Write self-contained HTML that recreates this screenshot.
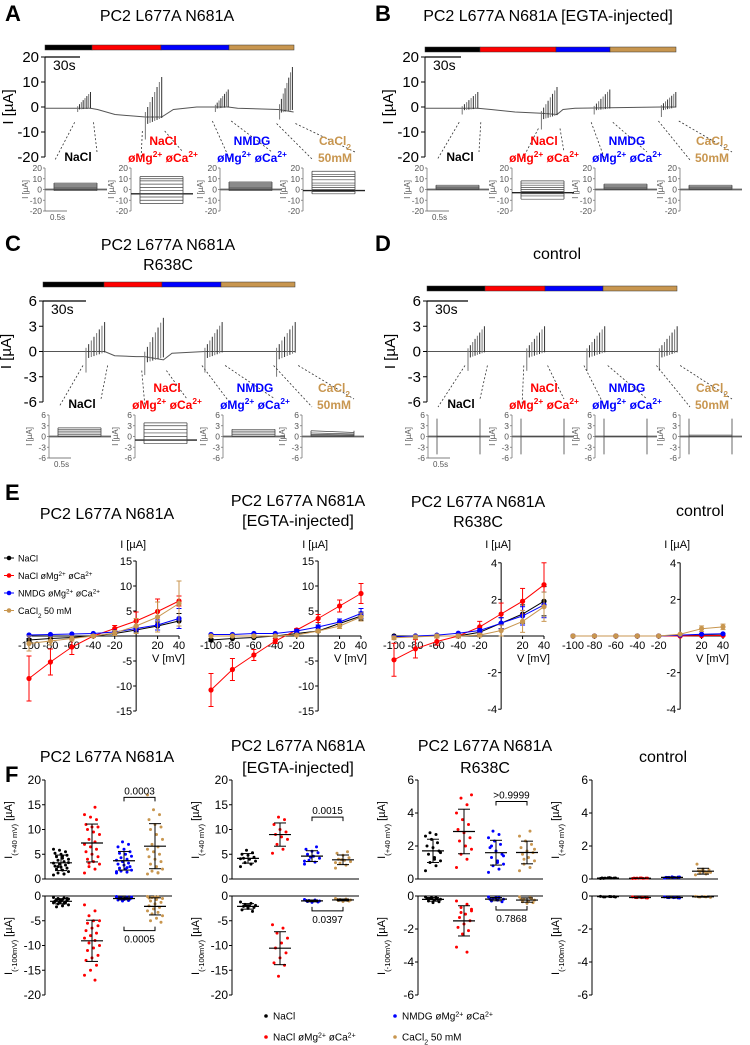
<!DOCTYPE html>
<html><head><meta charset="utf-8"><style>
html,body{margin:0;padding:0;background:#fff}
svg{display:block;font-family:"Liberation Sans",Arial,sans-serif}
</style></head><body>
<svg id="fig" width="750" height="1045" viewBox="0 0 750 1045" xmlns="http://www.w3.org/2000/svg"></svg>
<script>
// ---------- DATA ----------
const COLORS=['#000000','#ff0000','#0000ff','#c8964f'];
const ivVoltages=[-100,-80,-60,-40,-20,0,20,40];
const ivXTicks=[-100,-80,-60,-40,-20,20,40];
// E panel 1
const e1Black=[-0.8,-0.5,-0.3,0,0.5,1.2,2,3];
const e1Red=[-8.5,-5.2,-2.2,0,1.5,3,4.9,7];
const e1Blue=[0.2,0.3,0.4,0.5,0.8,1.5,2.2,3.5];
const e1Tan=[-1.5,-1,-0.5,0,0.6,2,3.8,6.5];
const e1BlackErr=[0.3,0.2,0.2,0.1,0.2,0.4,0.8,1.5];
const e1RedErr=[4.5,2.6,1.5,0.3,0.6,1.8,2.5,1];
const e1BlueErr=[0.2,0.2,0.2,0.2,0.3,0.5,1,2];
const e1TanErr=[1.5,0.8,0.5,0.3,0.5,1.5,3,4.5];
// E panel 2
const e2Black=[-0.8,-0.5,-0.3,0,0.5,1,2.5,4];
const e2Red=[-10.8,-6.7,-3.8,-1,1.2,3.5,6,8.5];
const e2Blue=[0.3,0.3,0.5,0.5,1,1.8,2.8,4.5];
const e2Tan=[0,0,0,0,0.2,1,2,3.8];
const e2BlackErr=[0.3,0.2,0.2,0.1,0.2,0.3,0.5,0.8];
const e2RedErr=[3.3,2.2,1.1,0.5,0.3,0.8,1.2,2];
const e2BlueErr=[0.2,0.2,0.2,0.2,0.3,0.4,0.6,1];
const e2TanErr=[0.2,0.2,0.2,0.2,0.2,0.3,0.5,0.8];
// E panel 3
const e3Black=[0,0,0,0,0.2,0.7,1.2,1.9];
const e3Red=[-1.3,-0.7,-0.3,0,0.5,1.2,1.9,2.8];
const e3Blue=[-0.05,0,0.05,0.15,0.3,0.7,1.1,1.7];
const e3Tan=[-0.1,-0.05,0,0,0.05,0.3,0.8,1.6];
const e3BlackErr=[0.05,0.05,0.05,0.05,0.1,0.3,0.5,0.8];
const e3RedErr=[0.9,0.5,0.2,0.1,0.3,0.6,0.7,1.2];
const e3BlueErr=[0.05,0.05,0.05,0.05,0.1,0.3,0.5,0.7];
const e3TanErr=[0.1,0.1,0.1,0.1,0.1,0.3,0.6,0.8];
// E panel 4
const e4Black=[0,0,0,0,0,0.02,0.05,0.05];
const e4Red=[0,0,0,0,0,0,0.02,0.03];
const e4Blue=[0,0,0,0,0,0.05,0.1,0.12];
const e4Tan=[0,0,0,0,0,0.1,0.4,0.5];
const e4BlackErr=[0,0,0,0,0,0.02,0.03,0.03];
const e4RedErr=[0,0,0,0,0,0,0.02,0.02];
const e4BlueErr=[0,0,0,0,0,0.03,0.05,0.05];
const e4TanErr=[0,0,0,0,0,0.05,0.15,0.15];
// F scatter values
const f1UpBlack=[0.8,1,1.2,1.5,1.8,2,2.2,2.4,2.6,2.8,3,3.2,3.5,3.8,4,4.2,4.5,4.8,5,5.2,5.5,5.8,6,1,2.5,3.3,4.6];
const f1UpRed=[1.2,2,2.5,3,3.5,4,4.5,5,5.5,6,6.5,7,7.5,8,9,9.5,10,10.5,10.5,11,12,12.5,13,14.5,3.2];
const f1UpBlue=[1.2,1.4,1.6,1.8,2,2.2,2.5,2.8,3,3.2,3.5,3.8,4,4.3,4.6,5,5.2,5.5,6,6.5,7,7.5,1.5,2.3];
const f1UpTan=[1,1.3,1.6,2,2.5,3,3.5,4,4.5,5,5.5,6,6.5,7,8,9,10,10.5,11,12,13,14,17,1.2];
const f1LoBlack=[-0.3,-0.4,-0.5,-0.6,-0.7,-0.8,-0.9,-1,-1.1,-1.2,-1.3,-1.4,-1.5,-1.6,-1.8,-2,-2.2,-0.5,-0.8,-1,-1.2,-0.7];
const f1LoRed=[-1.8,-3,-4,-5,-5,-5.5,-6,-6.5,-7,-7.5,-8,-8.5,-9,-9.5,-10,-10.5,-11,-12,-12.5,-13,-14,-15,-16,-17];
const f1LoBlue=[-0.1,-0.2,-0.3,-0.4,-0.5,-0.5,-0.6,-0.7,-0.8,-0.9,-1,-0.3,-0.4,-0.6,-0.2];
const f1LoTan=[-0.1,-0.2,-0.3,-0.5,-0.7,-1,-1.3,-1.6,-2,-2.3,-2.6,-3,-3.3,-3.6,-4,-4.5,-5,-5.3,-0.2,-0.4];
const f2UpBlack=[2.5,3,3.3,3.6,4,4.2,4.4,4.8,5,5.3,5.8,4.1];
const f2UpRed=[5.2,6,7,8,8.5,9,9.5,10,11,12,12.5];
const f2UpBlue=[3,3.4,3.8,4.2,4.6,5,5.3,5.6,6,6.5,4.4,3.6];
const f2UpTan=[2.2,2.8,3.2,3.5,3.8,4,4.3,4.8,5.2,5.5,3.9,3.3];
const f2LoBlack=[-1.2,-1.5,-1.7,-1.9,-2,-2.1,-2.3,-2.5,-2.8,-3.1,-2];
const f2LoRed=[-5.8,-6.5,-7.5,-8.5,-9.5,-10.5,-11.5,-12.5,-13.5,-14,-16.2];
const f2LoBlue=[-0.7,-0.8,-0.9,-1,-1,-1.1,-1.2,-1.3,-0.9,-1];
const f2LoTan=[-0.5,-0.6,-0.7,-0.8,-0.8,-0.9,-1,-1.1,-0.7,-0.9];
const f3UpBlack=[0.5,0.8,1,1.1,1.3,1.5,1.7,1.9,2,2.2,2.4,2.6,2.7,2.8,1.6,1.2];
const f3UpRed=[0.7,1.2,1.5,1.8,2,2.3,2.5,2.8,3,3.3,3.6,4,4.5,4.9,5.1];
const f3UpBlue=[0.4,0.6,0.8,0.9,1.1,1.3,1.5,1.7,1.9,2.1,2.3,2.5,2.7,2.9,1.4,1,2];
const f3UpTan=[0.5,0.7,0.9,1.1,1.3,1.5,1.6,1.7,1.9,2.1,2.3,2.6,2.9,1.2,1.8];
const f3LoBlack=[-0.05,-0.1,-0.15,-0.2,-0.25,-0.3,-0.35,-0.4,-0.15,-0.2,-0.1];
const f3LoRed=[-0.3,-0.5,-0.7,-0.9,-1.1,-1.3,-1.5,-1.7,-1.9,-2.1,-2.3,-3.1,-3.4,-1,-0.8];
const f3LoBlue=[-0.05,-0.1,-0.15,-0.2,-0.25,-0.3,-0.35,-0.1,-0.2];
const f3LoTan=[-0.05,-0.1,-0.2,-0.25,-0.3,-0.35,-0.4,-0.45,-0.2,-0.15];
const f4UpBlack=[0.03,0.05,0.05,0.06,0.08,0.04,0.05,0.07,0.06];
const f4UpRed=[0.03,0.04,0.05,0.05,0.06,0.04,0.05,0.06,0.05];
const f4UpBlue=[0.05,0.08,0.1,0.12,0.1,0.09,0.11,0.13,0.1];
const f4UpTan=[0.25,0.3,0.35,0.4,0.45,0.5,0.55,0.6,0.9,0.4,0.5];
const f4LoBlack=[-0.02,-0.04,-0.05,-0.06,-0.03,-0.05,-0.04];
const f4LoRed=[-0.05,-0.08,-0.1,-0.12,-0.1,-0.09,-0.11];
const f4LoBlue=[-0.05,-0.08,-0.1,-0.12,-0.1,-0.09,-0.11];
const f4LoTan=[-0.02,-0.05,-0.06,-0.08,-0.04,-0.05];
// trace panels: baselines [t(s), I(uA)], spike groups [t0,t1,maxPos,minNeg,base], inset levels
const aBaseline=[[0,-0.5],[28,-0.5],[39,-0.5],[45,-1],[60,-3],[86,-4],[100,-4],[110,-1],[130,0],[146,0],[157,0],[165,-0.5],[200,-1],[213,-2]];
const aGroups=[[28,39,6,-2,-0.5],[86,100,12,-13,-4],[146,157,7,-2,0],[201,212,16,-5,-1]];
const aInsetLevels=[[-1,0,1,2,3,4,5,6],[-13,-10,-7,-4,-1,2,5,8,10,12],[-1,0,1,2,3,4,5,6,7],[-4,-2,0,2,4,6,9,12,14,17]];
const aHold=[0,-4,0,-1];
const bBaseline=[[0,-0.5],[44,-0.5],[55,-1],[75,-2],[97,-2.5],[110,-3],[115,-1],[125,-0.5],[197,0],[209,0]];
const bGroups=[[31,44,6,-3,-0.5],[97,110,8,-9,-3],[141,154,7,-3,-0.5],[197,209,6,-4,0]];
const bInsetLevels=[[0,1,2,3,4],[-9,-6,-4,-2,0,2,4,6,8],[0,1,2,3,4,5],[0,1,2,3,4]];
const bHold=[0,-3,0,0];
const cBaseline=[[0,0],[43,0],[50,-0.5],[65,-0.6],[71,-0.6],[84,-1],[90,-0.2],[113,0],[176,0]];
const cGroups=[[30,43,3.5,-2.5,0],[71,84,4,-2.8,-0.6],[113,125,3.5,-2.5,0],[163,176,3.5,-3,0]];
const cInsetLevels=[[0,0.5,1,1.5,2,2.4],[-2,-1,0,1,2,3,3.8],[0,0.5,1,1.5,2],[0,0.3,0.6,1,1.6]];
const cHold=[0,-1,0,0];
const dBaseline=[[0,0],[183,0]];
const dGroups=[[30,42,3,-2.3,0],[73,86,3,-2.3,0],[117,130,3,-2.3,0],[170,183,3,-2.3,0]];
const dInsetLevels=[[0],[0],[0],[0,0.4]];
const dHold=[0,0,0,0];

// ---------- HELPERS ----------
const NS='http://www.w3.org/2000/svg';
const svg=document.getElementById('fig');
function el(tag,attrs,name,parent){
  const e=document.createElementNS(NS,tag);
  for(const k in attrs) e.setAttribute(k,attrs[k]);
  
  
  (parent||svg).appendChild(e);return e;
}
function txt(x,y,s,size,name,opts){
  opts=opts||{};
  const t=el('text',{x:x,y:y,'font-size':size,'text-anchor':opts.anchor||'middle',fill:opts.fill||'#000','font-weight':opts.bold?'bold':'normal'},name,opts.parent);
  if(opts.rot) t.setAttribute('transform','rotate(-90 '+x+' '+y+')');
  if(opts.html) t.innerHTML=s; else t.textContent=s;
  return t;
}
function line(x1,y1,x2,y2,stroke,w,name,extra,parent){
  const a={x1:x1,y1:y1,x2:x2,y2:y2,stroke:stroke,'stroke-width':w};
  if(extra) for(const k in extra) a[k]=extra[k];
  return el('line',a,name,parent);
}
const SUP=(s)=>'<tspan baseline-shift="super" font-size="70%">'+s+'</tspan>';
const SUB=(s)=>'<tspan baseline-shift="sub" font-size="70%">'+s+'</tspan>';

// ---------- TRACE PANELS ----------
function tracePanel(cfg){
  const g=el('g',{},cfg.name);
  const ax=cfg.axisX, yTop=cfg.yTop, yBot=cfg.yBot, M=cfg.max;
  const ypx=v=>yTop+(M-v)/(2*M)*(yBot-yTop);
  const tpx=t=>ax+t*cfg.pps;
  txt(cfg.letterX,cfg.letterY,cfg.letter,22,'panel-letter-'+cfg.letter.toLowerCase(),{anchor:'start',bold:true,parent:g});
  cfg.title.forEach((s,i)=>txt(cfg.titleX,cfg.titleY+i*20,s,16,'panel-title',{parent:g}));
  const bx=cfg.bar;
  for(let i=0;i<4;i++) el('rect',{x:bx[i],y:cfg.barY,width:bx[i+1]-bx[i],height:5,fill:COLORS[i],stroke:'#333','stroke-width':0.5},'solution-bar-'+i,g);
  line(ax,yTop,ax,yBot,'#000',1,'y-axis',null,g);
  cfg.ticks.forEach(v=>{line(ax-4,ypx(v),ax,ypx(v),'#000',1,'y-tick',null,g);txt(ax-6,ypx(v)+5,String(v),15,'y-tick-label',{anchor:'end',parent:g});});
  txt(cfg.axisX-32,(yTop+yBot)/2,'I [µA]',15,'y-axis-title',{rot:true,parent:g});
  line(ax,yTop,ax+30*cfg.pps,yTop,'#000',1.2,'time-scale-bar',null,g);
  txt(ax+8,yTop+13,'30s',14,'time-scale-label',{anchor:'start',parent:g});
  let d='';cfg.baseline.forEach((p,i)=>{d+=(i?'L':'M')+tpx(p[0]).toFixed(1)+' '+ypx(p[1]).toFixed(1);});
  el('path',{d:d,fill:'none',stroke:'#555','stroke-width':1},'current-trace',g);
  cfg.groups.forEach((gr,gi)=>{
    const n=8;
    for(let i=0;i<n;i++){
      const t=gr[0]+(gr[1]-gr[0])*i/(n-1);
      const pos=gr[4]+(gr[2]-gr[4])*(i+1)/n;
      const neg=gr[4]+(gr[3]-gr[4])*(i===0?1:0.35*(n-i)/n);
      line(tpx(t),ypx(neg),tpx(t),ypx(pos),i%2?'#333':'#777',1,'spike-'+gi,null,g);
    }
    const ia=cfg.insets[gi];
    line(tpx(gr[0])-3,ypx(gr[4])+14,ia+10,cfg.iTop-8,'#333',0.8,'zoom-connector',{'stroke-dasharray':'2,2'},g);
    line(tpx(gr[1])+3,ypx(gr[4])+14,ia+52,cfg.iTop-16,'#333',0.8,'zoom-connector',{'stroke-dasharray':'2,2'},g);
  });
  const labels=[['NaCl'],['NaCl','øMg'+SUP('2+')+' øCa'+SUP('2+')],['NMDG','øMg'+SUP('2+')+' øCa'+SUP('2+')],['CaCl'+SUB('2'),'50mM']];
  cfg.insets.forEach((ia,k)=>{
    const iT=cfg.iTop,iB=cfg.iBot,IM=cfg.iMax;
    const iy=v=>iT+(IM-v)/(2*IM)*(iB-iT);
    const ig=el('g',{},'inset-'+k,g);
    line(ia,iT,ia,iB,'#777',0.8,'inset-y-axis',null,ig);
    cfg.iTicks.forEach(v=>{line(ia-2,iy(v),ia,iy(v),'#777',0.8,'inset-tick',null,ig);txt(ia-3,iy(v)+3,String(v),8.5,'inset-tick-label',{anchor:'end',fill:'#555',parent:ig});});
    txt(ia-17,(iT+iB)/2,'I [µA]',8,'inset-y-title',{rot:true,fill:'#555',parent:ig});
    const x0=ia+9,x1=ia+52;
    const lv=cfg.levels[k];
    line(ia,iy(cfg.hold[k]),ia+62,iy(cfg.hold[k]),'#222',1.4,'holding-line',null,ig);
    if(cfg.hold[k]===0) line(ia,iy(0),ia+62,iy(0),'#aaa',2.5,'zero-line',{opacity:0.5},ig);
    lv.forEach(v=>line(x0,iy(v),x1,iy(v*(cfg.decay&&k===3?0.7:1)),'#444',0.7,'inset-step',null,ig));
    const mn=Math.min(...lv),mx=Math.max(...lv);
    if(cfg.capSpikes){line(x0,iy(-5),x0,iy(5),'#444',0.8,'cap-spike',null,ig);line(x1,iy(-5),x1,iy(5),'#444',0.8,'cap-spike',null,ig);}
    else{line(x0,iy(Math.min(mn,0)),x0,iy(mx),'#444',0.8,'inset-edge',null,ig);line(x1,iy(Math.min(mn,0)),x1,iy(mx),'#444',0.8,'inset-edge',null,ig);}
    const L=labels[k],cx=ia+(k===0?33:32);
    if(L.length===1) txt(cx,iT-7,L[0],12,'condition-label',{bold:true,fill:COLORS[k],parent:ig,html:true});
    else{txt(cx,iT-23,L[0],12,'condition-label',{bold:true,fill:COLORS[k],parent:ig,html:true});txt(cx,iT-6,L[1],12,'condition-label',{bold:true,fill:COLORS[k],parent:ig,html:true});}
    if(k===0){line(ia,iB,ia+22,iB,'#555',0.8,'inset-time-scale',null,ig);txt(ia+5,iB+9,'0.5s',8,'inset-time-label',{anchor:'start',fill:'#555',parent:ig});}
  });
}
tracePanel({name:'panel-a',letter:'A',letterX:5,letterY:21,title:['PC2 L677A N681A'],titleX:167,titleY:21,bar:[45,92,161,229,294],barY:45,axisX:45,yTop:57,yBot:157,max:20,ticks:[20,10,0,-10,-20],pps:1.167,baseline:aBaseline,groups:aGroups,insets:[45,131,220,303],iTop:168,iBot:211,iMax:20,iTicks:[20,10,0,-10,-20],levels:aInsetLevels,hold:aHold,decay:false});
tracePanel({name:'panel-b',letter:'B',letterX:375,letterY:21,title:['PC2 L677A N681A [EGTA-injected]'],titleX:548,titleY:21,bar:[425,480,556,610,676],barY:47,axisX:425,yTop:57,yBot:157,max:20,ticks:[20,10,0,-10,-20],pps:1.2,baseline:bBaseline,groups:bGroups,insets:[427,512,595,680],iTop:168,iBot:211,iMax:20,iTicks:[20,10,0,-10,-20],levels:bInsetLevels,hold:bHold});
tracePanel({name:'panel-c',letter:'C',letterX:5,letterY:251,title:['PC2 L677A N681A','R638C'],titleX:168,titleY:250,bar:[43,104,162,221,295],barY:282,axisX:43,yTop:301,yBot:402,max:6,ticks:[6,3,0,-3,-6],pps:1.433,baseline:cBaseline,groups:cGroups,insets:[49,135,223,302],iTop:415,iBot:458,iMax:6,iTicks:[6,3,0,-3,-6],levels:cInsetLevels,hold:cHold,decay:true});
tracePanel({name:'panel-d',letter:'D',letterX:375,letterY:251,title:['control'],titleX:557,titleY:259,bar:[427,485,545,603,677],barY:286,axisX:427,yTop:301,yBot:402,max:6,ticks:[6,3,0,-3,-6],pps:1.367,baseline:dBaseline,groups:dGroups,insets:[428,512,595,680],iTop:415,iBot:458,iMax:6,iTicks:[6,3,0,-3,-6],levels:dInsetLevels,hold:dHold,capSpikes:true});

// ---------- E: IV CURVES ----------
txt(5,500,'E',22,'panel-letter-e',{anchor:'start',bold:true});
function ivPanel(cfg){
  const g=el('g',{},cfg.name);
  const xpx=v=>cfg.x100+(v+100)*150/140;
  const ypx=v=>636-v*cfg.s;
  const ax=xpx(0);
  cfg.title.forEach((s,i)=>txt(cfg.tx,cfg.ty+i*20,s,16,'iv-title',{parent:g}));
  txt(ax-3,548,'I [µA]',11,'iv-y-axis-title',{parent:g});
  line(ax,ypx(cfg.ymax),ax,ypx(-cfg.ymax),'#000',1,'iv-y-axis',null,g);
  line(xpx(-100),636,xpx(40),636,'#000',1,'iv-x-axis',null,g);
  cfg.yt.forEach(v=>{line(ax-3,ypx(v),ax,ypx(v),'#000',1,'iv-y-tick',null,g);txt(ax-4,ypx(v)+4,String(v),11,'iv-y-tick-label',{anchor:'end',parent:g});});
  ivXTicks.forEach(v=>{line(xpx(v),636,xpx(v),639,'#000',1,'iv-x-tick',null,g);txt(xpx(v),649,String(v),11,'iv-x-tick-label',{parent:g});});
  txt(xpx(40)+6,662,'V [mV]',11,'iv-x-axis-title',{anchor:'end',parent:g});
  cfg.series.forEach((s,si)=>{
    const c=COLORS[si];
    let d='';ivVoltages.forEach((v,i)=>{d+=(i?'L':'M')+xpx(v).toFixed(1)+' '+ypx(s[0][i]).toFixed(1);});
    el('path',{d:d,fill:'none',stroke:c,'stroke-width':1},'iv-line-'+si,g);
    ivVoltages.forEach((v,i)=>{
      const x=xpx(v),y=ypx(s[0][i]),e=s[1][i]*cfg.s;
      if(e>1){line(x,y-e,x,y+e,c,1,'iv-error-bar',null,g);line(x-2.5,y-e,x+2.5,y-e,c,1,'iv-error-cap',null,g);line(x-2.5,y+e,x+2.5,y+e,c,1,'iv-error-cap',null,g);}
      el('circle',{cx:x,cy:y,r:2.6,fill:c},'iv-point',g);
    });
  });
}
ivPanel({name:'iv-panel-1',x100:29,s:5,ymax:15,yt:[15,10,5,-5,-10,-15],title:['PC2 L677A N681A'],tx:107,ty:519,series:[[e1Black,e1BlackErr],[e1Red,e1RedErr],[e1Blue,e1BlueErr],[e1Tan,e1TanErr]]});
ivPanel({name:'iv-panel-2',x100:211,s:5,ymax:15,yt:[15,10,5,-5,-10,-15],title:['PC2 L677A N681A','[EGTA-injected]'],tx:298,ty:506,series:[[e2Black,e2BlackErr],[e2Red,e2RedErr],[e2Blue,e2BlueErr],[e2Tan,e2TanErr]]});
ivPanel({name:'iv-panel-3',x100:394,s:18.3,ymax:4,yt:[4,2,-2,-4],title:['PC2 L677A N681A','R638C'],tx:478,ty:507,series:[[e3Black,e3BlackErr],[e3Red,e3RedErr],[e3Blue,e3BlueErr],[e3Tan,e3TanErr]]});
ivPanel({name:'iv-panel-4',x100:573,s:18.3,ymax:4,yt:[4,2,-2,-4],title:['control'],tx:700,ty:516,series:[[e4Black,e4BlackErr],[e4Red,e4RedErr],[e4Blue,e4BlueErr],[e4Tan,e4TanErr]]});
const ivLegend=['NaCl','NaCl øMg'+SUP('2+')+' øCa'+SUP('2+'),'NMDG øMg'+SUP('2+')+' øCa'+SUP('2+'),'CaCl'+SUB('2')+' 50 mM'];
ivLegend.forEach((s,i)=>{const y=558+i*17.5;line(4,y,14,y,COLORS[i],1,'iv-legend-line');el('circle',{cx:9,cy:y,r:2.3,fill:COLORS[i]},'iv-legend-marker');txt(18,y+3.5,s,9,'iv-legend-entry',{anchor:'start',html:true});});

// ---------- F: SCATTER ----------
txt(5,782,'F',22,'panel-letter-f',{anchor:'start',bold:true});
function fPanel(cfg){
  const g=el('g',{},cfg.name);
  const ax=cfg.ax, up=v=>879-v*cfg.s, lo=v=>896-v*cfg.s;
  cfg.title.forEach((s,i)=>txt(cfg.tx,cfg.ty+i*22,s,16,'scatter-title',{parent:g}));
  line(ax,up(cfg.ymax),ax,879,'#000',1,'upper-y-axis',null,g);line(ax,879,cfg.xend,879,'#000',1,'upper-x-axis',null,g);
  line(ax,896,ax,lo(-cfg.ymax),'#000',1,'lower-y-axis',null,g);line(ax,896,cfg.xend,896,'#000',1,'lower-x-axis',null,g);
  cfg.yt.forEach(v=>{line(ax-3,up(v),ax,up(v),'#000',1,'y-tick',null,g);txt(ax-4,up(v)+4,String(v),12,'y-tick-label',{anchor:'end',parent:g});
    line(ax-3,lo(-v),ax,lo(-v),'#000',1,'y-tick',null,g);txt(ax-4,lo(-v)+4,v?String(-v):'0',12,'y-tick-label',{anchor:'end',parent:g});});
  txt(ax-33,830,'I'+SUB('(+40 mV)')+' [µA]',11,'upper-y-title',{rot:true,html:true,parent:g});
  txt(ax-33,946,'I'+SUB('(-100mV)')+' [µA]',11,'lower-y-title',{rot:true,html:true,parent:g});
  function grp(vals,xc,c,yf,name){
    const n=vals.length;
    vals.forEach((v,i)=>el('circle',{cx:xc+(((i*7)%11)-5)*1.5,cy:yf(v),r:1.5,fill:c},name+'-point',g));
    const m=vals.reduce((a,b)=>a+b,0)/n;
    const sd=Math.sqrt(vals.reduce((a,b)=>a+(b-m)*(b-m),0)/(n-1));
    line(xc-11,yf(m),xc+11,yf(m),'#000',1.2,name+'-mean',null,g);
    line(xc,yf(m-sd),xc,yf(m+sd),'#000',1,name+'-sd',null,g);
    line(xc-6,yf(m-sd),xc+6,yf(m-sd),'#000',1,name+'-sd-cap',null,g);line(xc-6,yf(m+sd),xc+6,yf(m+sd),'#000',1,name+'-sd-cap',null,g);
  }
  cfg.upper.forEach((v,i)=>grp(v,cfg.gx[i],COLORS[i],up,'upper-group-'+i));
  cfg.lower.forEach((v,i)=>grp(v,cfg.gx[i],COLORS[i],lo,'lower-group-'+i));
  if(cfg.pu){const y=up(cfg.pu[0]);el('path',{d:'M'+cfg.gx[2]+' '+(y+4)+'V'+y+'H'+cfg.gx[3]+'V'+(y+4),fill:'none',stroke:'#000','stroke-width':1},'significance-bracket',g);txt((cfg.gx[2]+cfg.gx[3])/2,y-3,cfg.pu[1],10,'p-value-label',{parent:g});}
  if(cfg.pl){const y=lo(cfg.pl[0]);el('path',{d:'M'+cfg.gx[2]+' '+(y-4)+'V'+y+'H'+cfg.gx[3]+'V'+(y-4),fill:'none',stroke:'#000','stroke-width':1},'significance-bracket',g);txt((cfg.gx[2]+cfg.gx[3])/2,y+12,cfg.pl[1],10,'p-value-label',{parent:g});}
}
fPanel({name:'scatter-panel-1',ax:45,xend:172,s:4.95,ymax:20,yt:[20,15,10,5,0],gx:[61,92,124,155],title:['PC2 L677A N681A'],tx:107,ty:762,upper:[f1UpBlack,f1UpRed,f1UpBlue,f1UpTan],lower:[f1LoBlack,f1LoRed,f1LoBlue,f1LoTan],pu:[16.5,'0.0003'],pl:[-7,'0.0005']});
fPanel({name:'scatter-panel-2',ax:232,xend:359,s:4.95,ymax:20,yt:[20,15,10,5,0],gx:[248,280,312,343],title:['PC2 L677A N681A','[EGTA-injected]'],tx:298,ty:751,upper:[f2UpBlack,f2UpRed,f2UpBlue,f2UpTan],lower:[f2LoBlack,f2LoRed,f2LoBlue,f2LoTan],pu:[12.5,'0.0015'],pl:[-3,'0.0397']});
fPanel({name:'scatter-panel-3',ax:418,xend:543,s:16.5,ymax:6,yt:[6,4,2,0],gx:[433,464,496,527],title:['PC2 L677A N681A','R638C'],tx:485,ty:751,upper:[f3UpBlack,f3UpRed,f3UpBlue,f3UpTan],lower:[f3LoBlack,f3LoRed,f3LoBlue,f3LoTan],pu:[4.7,'>0.9999'],pl:[-0.85,'0.7868']});
fPanel({name:'scatter-panel-4',ax:592,xend:718,s:16.5,ymax:6,yt:[6,4,2,0],gx:[608,640,672,703],title:['control'],tx:663,ty:762,upper:[f4UpBlack,f4UpRed,f4UpBlue,f4UpTan],lower:[f4LoBlack,f4LoRed,f4LoBlue,f4LoTan]});
const fLegPos=[[266,1016],[266,1037],[395,1016],[395,1037]];
ivLegend.forEach((s,i)=>{el('circle',{cx:fLegPos[i][0],cy:fLegPos[i][1],r:1.8,fill:COLORS[i]},'scatter-legend-marker');txt(fLegPos[i][0]+7,fLegPos[i][1]+3.5,s,10,'scatter-legend-entry',{anchor:'start',html:true});});
</script>
</body></html>
